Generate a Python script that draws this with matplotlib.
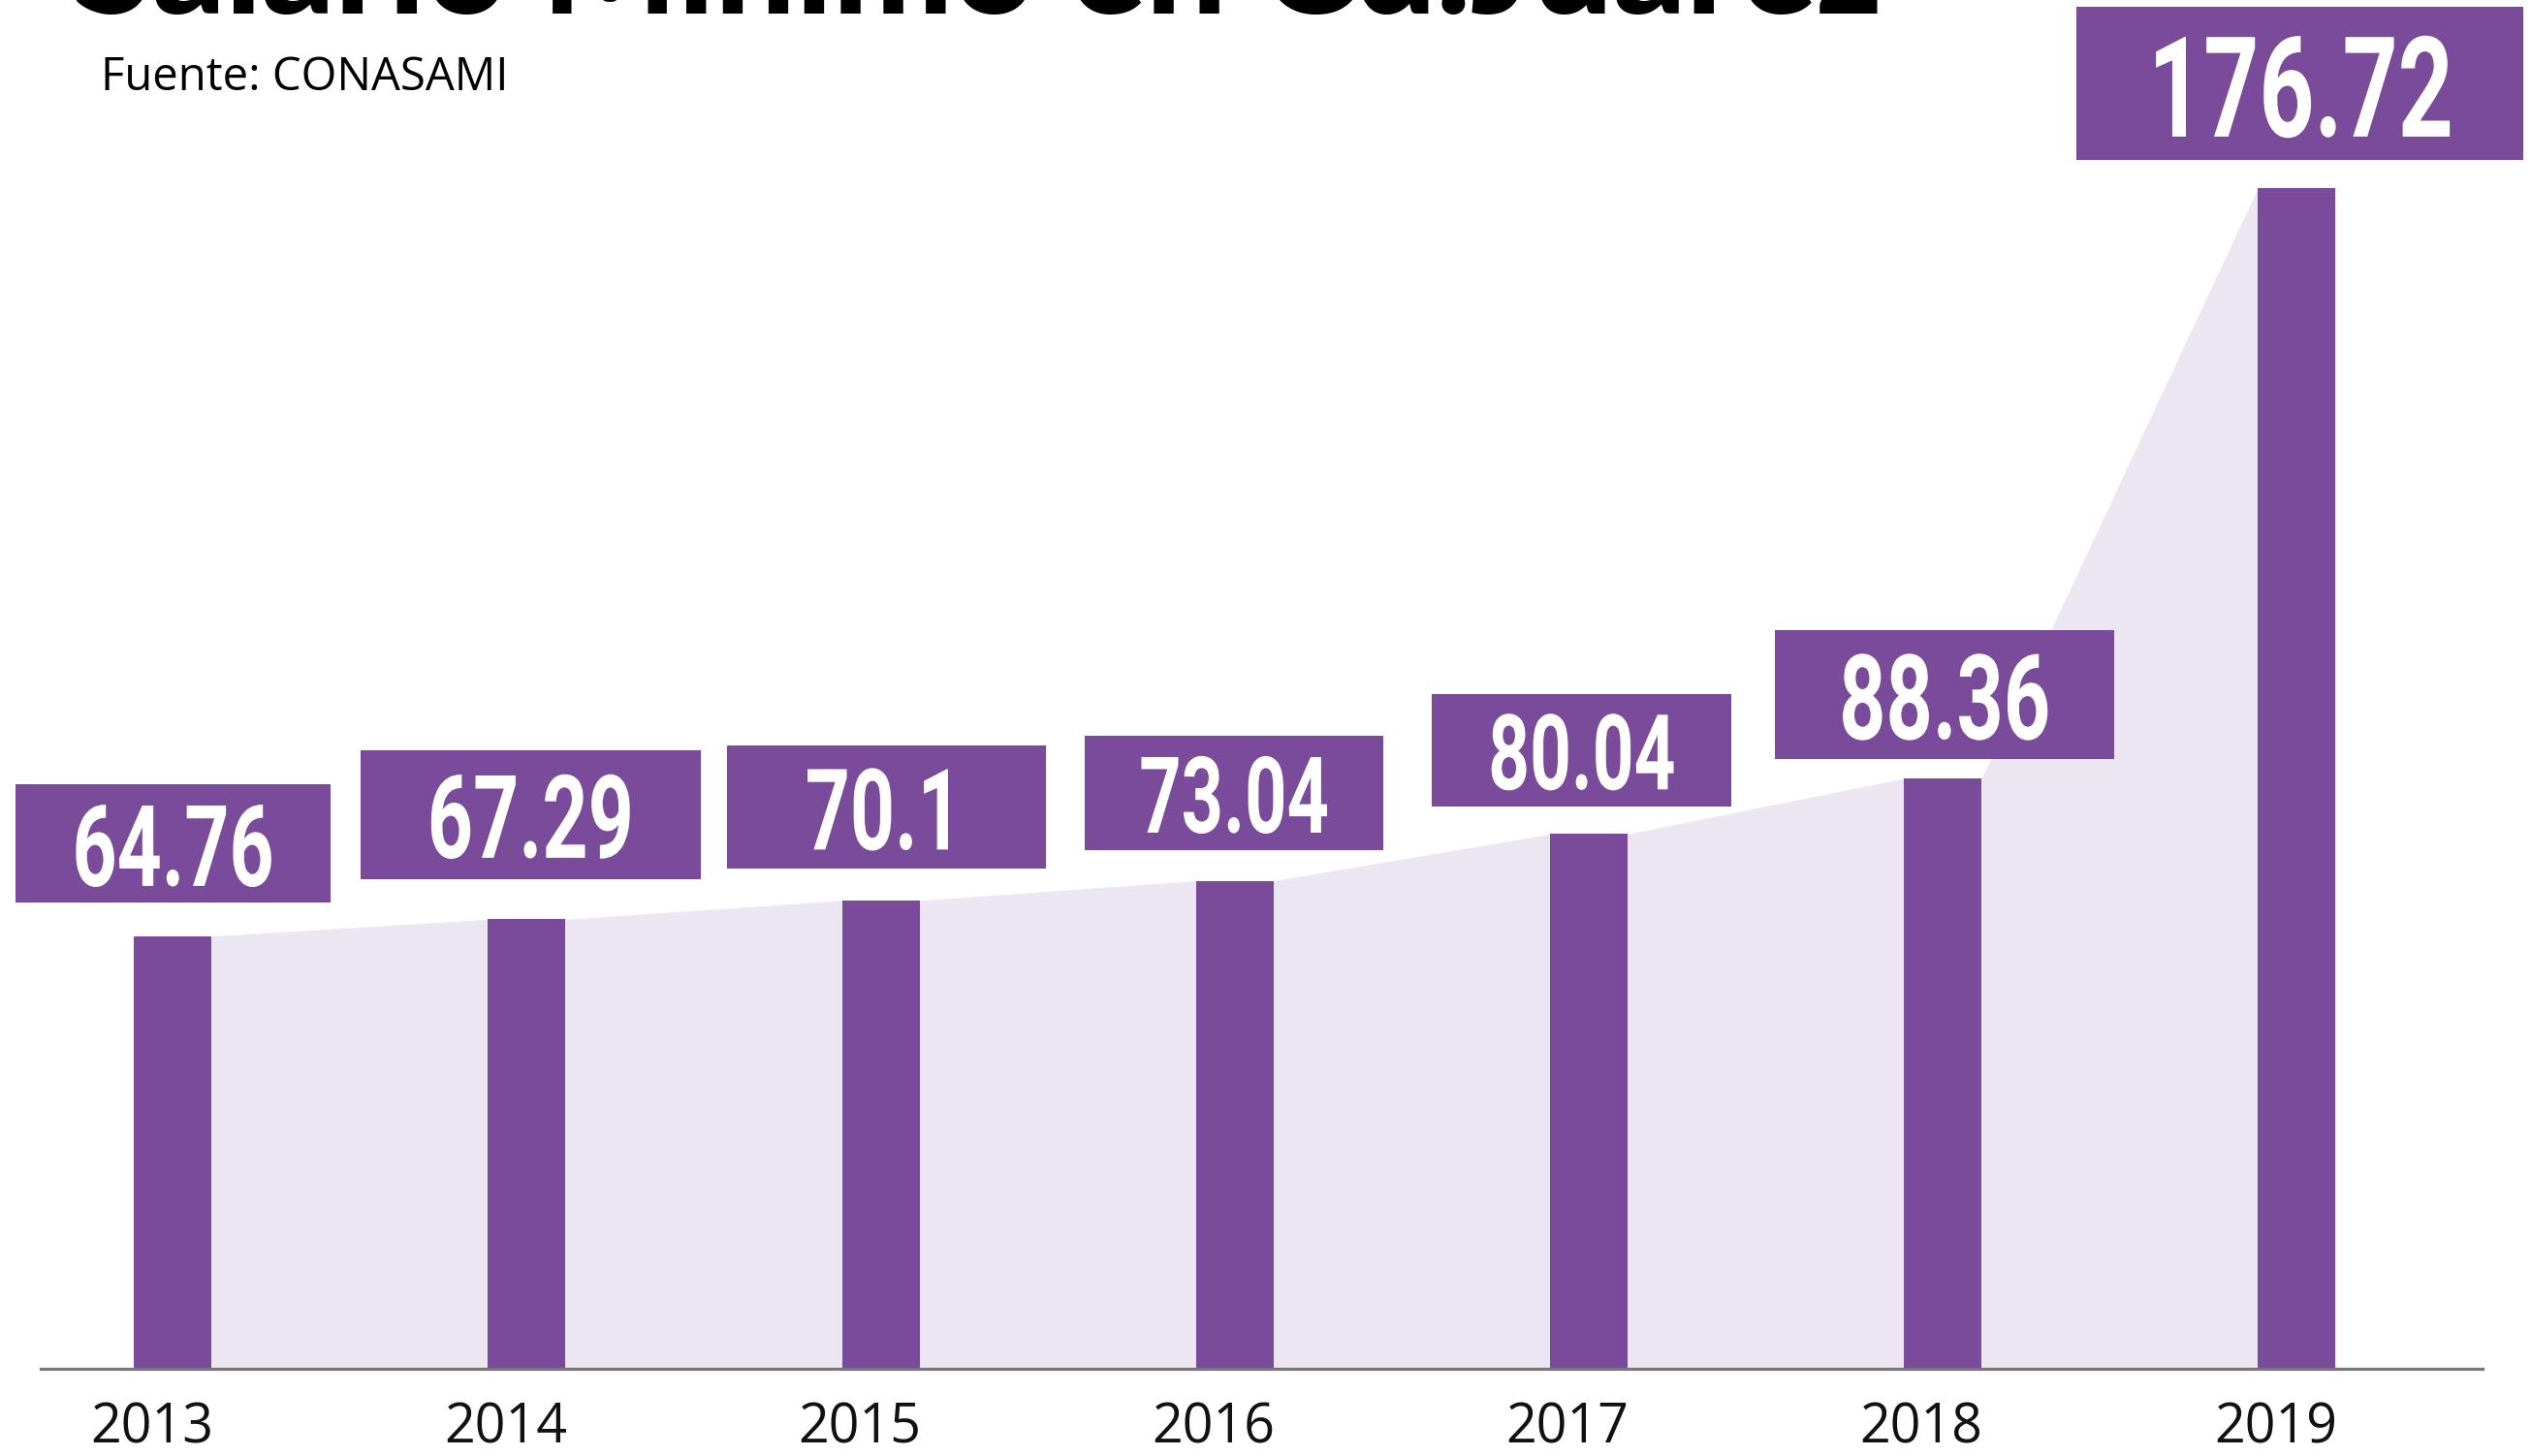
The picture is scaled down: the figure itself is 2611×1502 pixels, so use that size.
import matplotlib.pyplot as plt
from matplotlib.patches import Rectangle
from matplotlib.patheffects import AbstractPathEffect
from matplotlib.transforms import Affine2D
import numpy as np

# data
years = ['2013', '2014', '2015', '2016', '2017', '2018', '2019']
salario = [64.76, 67.29, 70.10, 73.04, 80.04, 88.36, 176.72]
etiquetas = ['64.76', '67.29', '70.1', '73.04', '80.04', '88.36', '176.72']

# label box styling (width in bar slots, height / gap in pesos)
box_w = [0.889, 0.962, 0.903, 0.844, 0.844, 0.958, 1.263]
box_h = [17.6, 19.3, 18.4, 17.1, 16.9, 19.3, 22.9]
box_gap = [5.1, 6.0, 4.8, 4.6, 4.1, 2.9, 4.1]
box_dx = [0.0, 0.011, 0.016, -0.002, -0.020, 0.005, 0.009]
label_fs = [84, 86, 84, 79, 78, 88, 104]

PURPLE = '#7A4B9A'
LAVENDER = '#ECE6F2'
BAR_W = 0.219


class Condense(AbstractPathEffect):
    # squeeze the glyphs horizontally around their own centre
    def __init__(self, sx):
        super().__init__()
        self._sx = sx

    def draw_path(self, renderer, gc, tpath, affine, rgbFace=None):
        ext = tpath.get_extents()
        cx = (ext.x0 + ext.x1) / 2
        t = Affine2D().translate(-cx, 0).scale(self._sx, 1).translate(cx, 0) + affine
        renderer.draw_path(gc, tpath, t, rgbFace)


def main():
    fig = plt.figure(figsize=(26.11, 15.02), dpi=100)
    ax = fig.add_axes([0, 0, 1, 1])
    ax.axis('off')
    ax.set_xlim(-0.488, 6.662)
    ax.set_ylim(-13.0, 204.8)

    x = np.arange(len(years))

    # shaded area joining the bar tops
    xs = np.column_stack([x - BAR_W / 2, x + BAR_W / 2]).ravel()
    ys = np.repeat(salario, 2)
    ax.fill_between(xs, 0, ys, color=LAVENDER, lw=0, zorder=1)

    ax.bar(x, salario, width=BAR_W, color=PURPLE, zorder=2)
    ax.axhline(0, xmin=0.016, xmax=0.981, color='#777777', lw=2.3, zorder=3)

    for i in range(len(years)):
        cx = x[i] + box_dx[i]
        bottom = salario[i] + box_gap[i]
        ax.add_patch(Rectangle((cx - box_w[i] / 2, bottom), box_w[i], box_h[i],
                               color=PURPLE, lw=0, zorder=4))
        ax.text(cx, bottom + box_h[i] / 2, etiquetas[i], color='white',
                fontsize=label_fs[i], fontweight='bold', family='Roboto',
                ha='center', va='center_baseline', zorder=5,
                path_effects=[Condense(0.69)])
        ax.text(x[i] - 0.06, -8.9, years[i], fontsize=40, family='Open Sans',
                color='#111111', ha='center', va='center')

    fig.text(0.029, 0.991, 'Salario Mínimo en Cd.Juárez', fontsize=106,
             family='Lato', fontweight='black', color='black', va='baseline')
    fig.text(0.040, 0.938, 'Fuente: CONASAMI', fontsize=34, family='Open Sans',
             fontweight='medium', color='black', va='baseline')

    fig.savefig('out.png', dpi=100)


if __name__ == '__main__':
    main()
